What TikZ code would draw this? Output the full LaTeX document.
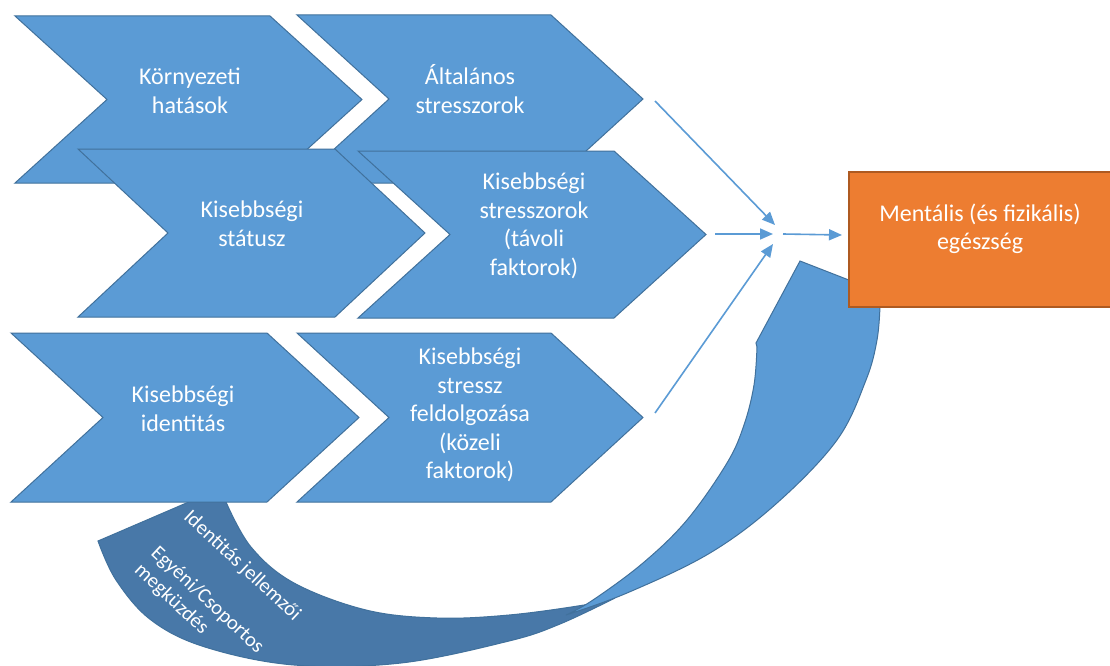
\documentclass[tikz,border=0pt]{standalone}
\usepackage{fontspec}
\setmainfont{Carlito}
\usetikzlibrary{arrows.meta}
\definecolor{cblue}{HTML}{5B9BD5}
\definecolor{cedge}{HTML}{41719C}
\definecolor{cdark}{HTML}{4878A8}
\definecolor{corange}{HTML}{ED7D31}
\definecolor{coredge}{HTML}{AE5A21}
\newcommand\chevronpath[5]{% L T W D H
  \path[chev] (#1,#2) -- ++(#3,0) -- ++(#4,#5/2) -- ++(-#4,#5/2) -- ++(-#3,0) -- ++(#4,-#5/2) -- cycle;}
\begin{document}
\begin{tikzpicture}[x=1pt,y=-1pt,
  chev/.style={fill=cblue,draw=cedge,line width=1pt,line join=miter},
  lbl/.style={text=white,font=\fontsize{24}{28.5}\selectfont,align=center,inner sep=0pt},
  bandlbl/.style={text=white,font=\fontsize{20.5}{24}\selectfont,align=left,rotate=-43,inner sep=0pt},
  conn/.style={draw=cblue,line width=1.6pt,-{Triangle[length=13pt,width=11pt]}}]
\useasboundingbox (0,0) rectangle (1110,666);
\clip (0,0) rectangle (1110,666);
\fill[white] (0,0) rectangle (1110,666);
% curved band: dark back part
\path[fill=cdark,draw=cedge,line width=1pt]
  (98,541) -- (205,495) -- (224,495) --
  plot[smooth,tension=0.6] coordinates {(226,502) (251,547) (294,583) (366,610) (437,618) (509,615) (584,605) (615,598)}
  -- plot[smooth,tension=0.6] coordinates {(615,598) (560,624) (509,641) (401,663) (294,665) (205,647) (151,620) (116,580) (98,541)}
  -- cycle;
% curved band: light front part with arrow head
\path[fill=cblue,draw=cedge,line width=1pt]
  plot[smooth,tension=0.6] coordinates {(566,615) (593,600) (643,563) (687,520) (727,463) (744,425) (754,385) (757,347)}
  -- (756,343) -- (800,261) -- (895,298) -- (880,306)
  -- plot[smooth,tension=0.6] coordinates {(880,306) (877,340) (866,380) (837,440) (777,503) (710,553) (627,593) (566,615)}
  -- cycle;
% chevrons
\chevronpath{15}{16}{255}{92}{167}
\chevronpath{297}{15}{254}{92}{168}
\chevronpath{78}{149}{257}{90}{168}
\chevronpath{358}{151}{256}{92}{167}
\chevronpath{11}{333}{256}{92}{169}
\chevronpath{297}{333}{254}{92}{169}
\node[lbl] (tA) at (190,91) {Környezeti\\hatások};
\node[lbl] (tB) at (470,89) {Általános\\stresszorok};
\node[lbl] (tC) at (252,224) {Kisebbségi\\státusz};
\node[lbl] (tD) at (534,226) {Kisebbségi\\stresszorok\\(távoli\\faktorok)};
\node[lbl] (tE) at (183,409) {Kisebbségi\\identitás};
\node[lbl] (tF) at (470,415) {Kisebbségi\\stressz\\feldolgozása\\(közeli\\faktorok)};
% band text
\node[bandlbl] (tband1) at (242,566) {Identitás jellemzői};
\node[bandlbl] (tband2) at (199,609) {Egyéni/Csoportos\\megküzdés};
% outcome box
\node[draw=coredge,fill=corange,line width=1.5pt,minimum width=270pt,minimum height=135pt,anchor=north west,inner sep=0pt] (out) at (848,171) {};
\node[lbl] (tout) at (980,229) {Mentális (és fizikális)\\egészség};
% connectors
\coordinate (sB) at (655,101);
\coordinate (sD) at (715,234);
\coordinate (sF) at (655,413);
\coordinate (hub1) at (775,225);
\coordinate (hub2) at (773,234);
\coordinate (hub3) at (773,244);
\coordinate (hubout) at (783,234);
\coordinate (eout) at (842,235);
\draw[conn] (sB) -- (hub1);
\draw[conn] (sD) -- (hub2);
\draw[conn] (sF) -- (hub3);
\draw[conn] (hubout) -- (eout);
\end{tikzpicture}
\end{document}
